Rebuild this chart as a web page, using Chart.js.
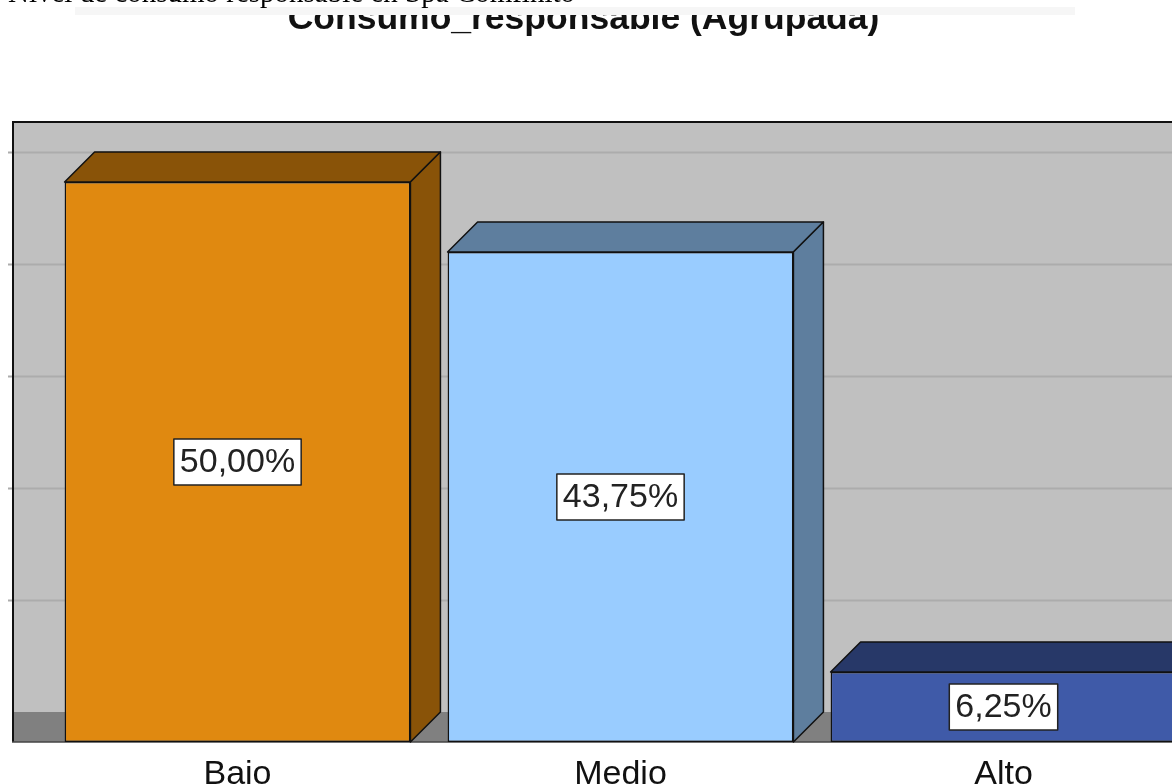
<!DOCTYPE html>
<html lang="es">
<head>
<meta charset="UTF-8">
<title>Consumo_responsable (Agrupada)</title>
<style>
  body { margin: 0; width: 1172px; height: 784px; overflow: hidden; background: #fff; position: relative; }
  #wrap { position: absolute; left: 0; top: 0; }
  #title { position: absolute; left: 0; top: 0; width: 1167px; text-align: center;
           font: bold 35.5px "Liberation Sans", Arial, sans-serif; line-height: 35px; color: #111; }
  #band { position: absolute; left: 75px; top: 0; width: 1000px; height: 15px;
          background: linear-gradient(#fff 0 7px, #f6f6f6 7px 15px); }
  #caption { position: absolute; left: 8px; top: -22px; white-space: nowrap;
             font: 29px "Liberation Serif", "Times New Roman", serif; line-height: 29px; color: #000; }
</style>
</head>
<body>
<div id="wrap"><canvas id="myChart" width="1210" height="784"></canvas></div>
<div id="title">Consumo_responsable (Agrupada)</div>
<div id="band"></div>
<div id="caption">Nivel de consumo responsable en Spa Comfinito</div>

<script src="https://cdn.jsdelivr.net/npm/chart.js@4.4.0/dist/chart.umd.min.js"></script>
<script>
  const categories = ['Bajo', 'Medio', 'Alto'];
  const percentages = [50.00, 43.75, 6.25];
  const gridValues = [10, 20, 30, 40, 50];

  const frontColors = ['rgb(224,137,16)', 'rgb(153,204,255)', 'rgb(63,90,168)'];
  const darkColors = ['rgb(137,83,8)', 'rgb(94,126,158)', 'rgb(39,56,104)'];
  const depth = 30;
  const wallLeft = 12;

  // back wall, floor and the grid lines (drawn shifted back by depth)
  const wallPlugin = {
    id: 'wall',
    beforeDatasetsDraw(chart) {
      const { ctx, chartArea: a, scales: { y } } = chart;
      const right = chart.width;
      ctx.save();
      ctx.fillStyle = '#c0c0c0';
      ctx.fillRect(wallLeft, a.top, right - wallLeft, a.bottom - a.top);

      ctx.strokeStyle = '#acacac';
      ctx.lineWidth = 2;
      gridValues.forEach(v => {
        const py = Math.round(y.getPixelForValue(v) - depth) + 0.5;
        ctx.beginPath();
        ctx.moveTo(wallLeft - 4, py);
        ctx.lineTo(right, py);
        ctx.stroke();
      });

      const floorTop = y.getPixelForValue(0) - depth;
      ctx.fillStyle = '#808080';
      ctx.fillRect(wallLeft, floorTop, right - wallLeft, a.bottom - floorTop);

      ctx.strokeStyle = '#111';
      ctx.lineWidth = 2;
      ctx.beginPath();
      ctx.moveTo(wallLeft + 1, a.bottom);
      ctx.lineTo(wallLeft + 1, a.top + 1);
      ctx.lineTo(right, a.top + 1);
      ctx.stroke();

      ctx.strokeStyle = '#444';
      ctx.lineWidth = 1.5;
      ctx.beginPath();
      ctx.moveTo(wallLeft, a.bottom);
      ctx.lineTo(right, a.bottom);
      ctx.stroke();
      ctx.restore();
    }
  };

  // top and side faces of each bar, then the value boxes
  const barPlugin = {
    id: 'bars3d',
    afterDatasetsDraw(chart) {
      const ctx = chart.ctx;
      const meta = chart.getDatasetMeta(0);
      ctx.save();
      ctx.lineWidth = 1.5;
      ctx.strokeStyle = '#111';
      ctx.lineJoin = 'round';
      meta.data.forEach((bar, i) => {
        const { x, y, base, width } = bar.getProps(['x', 'y', 'base', 'width'], true);
        const l = x - width / 2, r = x + width / 2;
        ctx.fillStyle = darkColors[i];
        ctx.beginPath();
        ctx.moveTo(l, y); ctx.lineTo(r, y); ctx.lineTo(r + depth, y - depth); ctx.lineTo(l + depth, y - depth);
        ctx.closePath(); ctx.fill(); ctx.stroke();
        ctx.beginPath();
        ctx.moveTo(r, y); ctx.lineTo(r + depth, y - depth); ctx.lineTo(r + depth, base - depth); ctx.lineTo(r, base);
        ctx.closePath(); ctx.fill(); ctx.stroke();
      });

      ctx.font = '34px "Liberation Sans", Arial, sans-serif';
      ctx.textAlign = 'center';
      ctx.textBaseline = 'middle';
      meta.data.forEach((bar, i) => {
        const { x, y, base } = bar.getProps(['x', 'y', 'base'], true);
        const cy = (y + base) / 2;
        const txt = percentages[i].toFixed(2).replace('.', ',') + '%';
        const w = ctx.measureText(txt).width + 12;
        const h = 46;
        ctx.fillStyle = '#fff';
        ctx.fillRect(x - w / 2, cy - h / 2, w, h);
        ctx.strokeStyle = '#222';
        ctx.lineWidth = 1.5;
        ctx.strokeRect(x - w / 2, cy - h / 2, w, h);
        ctx.fillStyle = '#222';
        ctx.fillText(txt, x, cy + 1);
      });
      ctx.restore();
    }
  };

  const ctx = document.getElementById('myChart');
  const chart = new Chart(ctx, {
    type: 'bar',
    data: {
      labels: categories,
      datasets: [{
        data: percentages,
        backgroundColor: frontColors,
        borderColor: '#111',
        borderWidth: 1.5,
        borderSkipped: false,
        barPercentage: 0.903,
        categoryPercentage: 1
      }]
    },
    options: {
      responsive: false,
      animation: false,
      layout: { padding: { top: 121, left: 46, right: 15, bottom: 0 } },
      plugins: { legend: { display: false }, tooltip: { enabled: false } },
      scales: {
        y: { display: false, min: 0, max: 55.45 },
        x: {
          grid: { display: false },
          border: { display: false },
          ticks: { color: '#111', padding: 4, font: { size: 34, family: '"Liberation Sans", Arial, sans-serif' } },
          afterFit(scale) { scale.height = 42; }
        }
      }
    },
    plugins: [wallPlugin, barPlugin]
  });
</script>
</body>
</html>
